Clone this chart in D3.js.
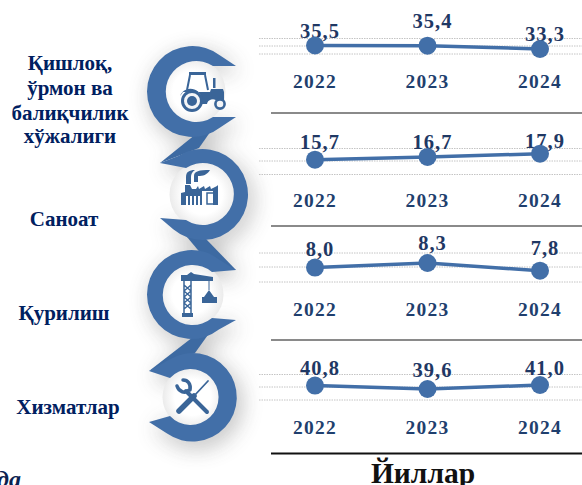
<!DOCTYPE html>
<html><head><meta charset="utf-8">
<script src="https://cdn.jsdelivr.net/npm/d3@7"></script>
<style>html,body{margin:0;padding:0;background:#fff;overflow:hidden}svg{display:block}text{font-family:"Liberation Serif",serif;font-weight:bold}</style>
</head><body><svg id="c" width="582" height="485"></svg>
<script>
const years=["2022","2023","2024"];
const sectors=[["Қишлоқ,","ўрмон ва","балиқчилик","хўжалиги"],["Саноат"],["Қурилиш"],["Хизматлар"]];
const agriculture=[35.5,35.4,33.3];
const industry=[15.7,16.7,17.9];
const construction=[8.0,8.3,7.8];
const services=[40.8,39.6,41.0];
const series=[agriculture,industry,construction,services];
const xAxisTitle="Йиллар";

const blue="#426fa8",navy="#002060",yearCol="#1f3f6e",labCol="#1f3864";
const svg=d3.select("#c");
const defs=svg.append("defs");
const f=defs.append("filter").attr("id","sh").attr("x","-50%").attr("y","-50%").attr("width","200%").attr("height","200%");
f.append("feGaussianBlur").attr("stdDeviation",11);
const rgd=defs.append("radialGradient").attr("id","inner");
rgd.append("stop").attr("offset","60%").attr("stop-color","#fff");
rgd.append("stop").attr("offset","100%").attr("stop-color","#ebebeb");

// C-shaped rings (decoration behind the chart)
function ring(cx,cy,R,r,dir,t1,t2,a1,a2,i1,i2){
  const P=(rad,a)=>[cx+rad*Math.cos(a),cy+rad*Math.sin(a)];
  const o1=P(R,a1),o2=P(R,a2);
  const sweep=dir==1?0:1, back=dir==1?1:0;
  return `M${t1}L${o1}A${R} ${R} 0 1 ${sweep} ${o2}L${t2}L${i2}A${r} ${r} 0 1 ${back} ${i1}Z`;
}
const d2r=Math.PI/180;
const discs=[[192.5,91.5,33],[202.5,194.5,33],[191.5,294.5,32],[192.5,397.3,30]];
const rings=[
 ring(192.5,91.5,45.5,30.5,1,[236,66],[236,117],-52*d2r,52*d2r,[213,66],[213,117]),
 ring(202.5,194.5,45.5,31,-1,[160,163],[160,218],-122*d2r,130*d2r,[186,168],[186,220]),
 ring(191.5,294.5,44.5,30,1,[236,270],[236,320],-52*d2r,52*d2r,[212,272],[212,318]),
 ring(192.5,397.3,44.3,28,-1,[149,371],[149,422],-122*d2r,125*d2r,[170,378],[170,416])
];
const links=[
 [[196,134],[213,128],[199,148],[160,163]],
 [[187,237],[205,238],[236,270],[213,268]],
 [[193,337],[210,332],[195,353],[149,371]]
];
const shadow=svg.append("g").attr("filter","url(#sh)").attr("opacity",.38).attr("transform","translate(4,6)");
rings.forEach(d=>shadow.append("path").attr("d",d).attr("fill","#444"));
links.forEach(l=>shadow.append("path").attr("d",d3.line()(l)+"Z").attr("fill","#444"));
discs.forEach(d=>svg.append("circle").attr("cx",d[0]).attr("cy",d[1]).attr("r",d[2]).attr("fill","url(#inner)"));

const x=d3.scalePoint().domain(years).range([315,540]);
// panel layout: [value low, value high, y low, y high], gridlines, year baseline
const panels=[
 {dom:[33.3,35.5],rng:[49,45.5],grid:[38.5,46,54],yb:88,sep:113,sepC:"#8a8a8a"},
 {dom:[15.7,17.9],rng:[159.7,153.7],grid:[148.5,161,174.5],yb:207,sep:226,sepC:"#8a8a8a"},
 {dom:[7.8,8.3],rng:[270.7,263],grid:[253,267,282],yb:316,sep:340,sepC:"#8a8a8a"},
 {dom:[39.6,41.0],rng:[389,385],grid:[374.5,387,400],yb:434,sep:453.5,sepC:"#111"}
];
const fmt=v=>d3.format(".1f")(v).replace(".",",");
const labelOffset=[[-7.5,-17.5,-8],[-11,-8,-5.5],[-12,-13,-15.7],[-10.5,-12,-10]];
panels.forEach((p,i)=>{
  const y=d3.scaleLinear().domain(p.dom).range(p.rng);
  const g=svg.append("g");
  g.selectAll("line.g").data(p.grid).join("line").attr("x1",259).attr("x2",582).attr("y1",d=>d).attr("y2",d=>d)
    .attr("stroke","#c4c4c4").attr("stroke-width",1).attr("stroke-dasharray","1.5 1");
  g.append("line").attr("x1",271).attr("x2",582).attr("y1",p.sep).attr("y2",p.sep).attr("stroke",p.sepC).attr("stroke-width",2);
  g.selectAll("text.y").data(years).join("text").attr("x",d=>x(d)).attr("y",p.yb).attr("text-anchor","middle")
    .attr("font-size",19.5).attr("letter-spacing",1.2).attr("fill",yearCol).text(d=>d);
  g.selectAll("text.v").data(series[i]).join("text").attr("x",(d,j)=>x(years[j])+5).attr("y",(d,j)=>y(d)+labelOffset[i][j])
    .attr("text-anchor","middle").attr("font-size",20.5).attr("letter-spacing",1).attr("fill",labCol).text(fmt);
  g.append("path").datum(series[i]).attr("fill","none").attr("stroke",blue).attr("stroke-width",3.5)
    .attr("d",d3.line().x((d,j)=>x(years[j])).y(d=>y(d)));
  g.selectAll("circle").data(series[i]).join("circle").attr("cx",(d,j)=>x(years[j])).attr("cy",d=>y(d)).attr("r",9).attr("fill",blue);
});

// side labels
const labelPos=[{cx:70,ys:[70,95,120,143]},{cx:64,ys:[226]},{cx:64,ys:[320]},{cx:68,ys:[414]}];
sectors.forEach((lines,i)=>{
  lines.forEach((t,k)=>svg.append("text").attr("x",labelPos[i].cx).attr("y",labelPos[i].ys[k]).attr("text-anchor","middle")
    .attr("font-size",21).attr("fill",navy).text(t));
});

const rg=svg.append("g").attr("fill",blue);
links.forEach(l=>rg.append("path").attr("d",d3.line()(l)+"Z").attr("fill","#3d6aa2"));
rings.forEach(d=>rg.append("path").attr("d",d));

// icons
const ic="#3a6598";
const tr=svg.append("g").attr("fill",ic);
tr.append("rect").attr("x",189).attr("y",72).attr("width",17).attr("height",3);
tr.append("path").attr("d","M190 75l-3 15M205 75l3 15").attr("stroke",ic).attr("stroke-width",2);
tr.append("path").attr("d","M183 92h27l1-3h12l1 3v8l-3 1h-4a6 6 0 0 0-10 3h-6a11 11 0 0 0-21-8z");
tr.append("rect").attr("x",213).attr("y",78).attr("width",2.5).attr("height",10);
tr.append("circle").attr("cx",192).attr("cy",101).attr("r",9.5).attr("fill","#f4f5f7").attr("stroke",ic).attr("stroke-width",3);
tr.append("circle").attr("cx",192).attr("cy",101).attr("r",5).attr("fill",ic);
tr.append("circle").attr("cx",220).attr("cy",104).attr("r",4.6).attr("fill","#f4f5f7").attr("stroke",ic).attr("stroke-width",2.6);
const fa=svg.append("g").attr("fill",ic);
fa.append("path").attr("d","M181 205v-12l4-1v-7h5l2 4h4l2-3 1 3 5-3 1 3 5-3 1 3 6-3 1-1v20h-5v-14h-11v14h-2v-9h-2v9h-2v-9h-2v9h-2v-9h-2v9h-2v-9h-2v9z");
fa.append("path").attr("d","M207 193h7v11h-7z").attr("fill","none").attr("stroke",ic).attr("stroke-width",1.5);
fa.append("path").attr("d","M186 184v-7c0-5 3-7 9-7-3 2-4 4-4 7v7zM194 182v-6c0-5 5-6 16-6-3 5-7 6-12 6v6z");
const cr=svg.append("g").attr("fill",ic);
cr.append("path").attr("d","M181 281v-6h6l4-3 3 2 19 3v4z");
cr.append("path").attr("d","M184 281v32M191 281v32M184 285l7 6M191 285l-7 6M184 291l7 6M191 291l-7 6M184 297l7 6M191 297l-7 6M184 303l7 6M191 303l-7 6").attr("fill","none").attr("stroke",ic).attr("stroke-width",1.5);
cr.append("rect").attr("x",182).attr("y",313).attr("width",11).attr("height",4);
cr.append("path").attr("d","M209 281v9").attr("stroke",ic).attr("stroke-width",1);
cr.append("path").attr("d","M209 290l-5 7h10z");
cr.append("rect").attr("x",202).attr("y",297).attr("width",15).attr("height",6);
const to=svg.append("g").attr("stroke",ic).attr("fill","none").attr("stroke-linecap","round");
to.append("path").attr("d","M186 391l21 21").attr("stroke-width",4);
to.append("path").attr("d","M177 386c2 6 8 8 12 4M183 380c5 0 8 4 7 10").attr("stroke-width",3.5);
to.append("path").attr("d","M208 381l-14 15").attr("stroke-width",1.8);
to.append("path").attr("d","M194 396l-15 15").attr("stroke-width",5.5);

svg.append("text").attr("x",423).attr("y",483).attr("text-anchor","middle").attr("font-size",29.5).attr("fill","#111").text(xAxisTitle);
svg.append("text").attr("x",-3).attr("y",487).attr("font-size",24).attr("font-style","italic").attr("fill","#0b2250").text("да");
</script></body></html>
